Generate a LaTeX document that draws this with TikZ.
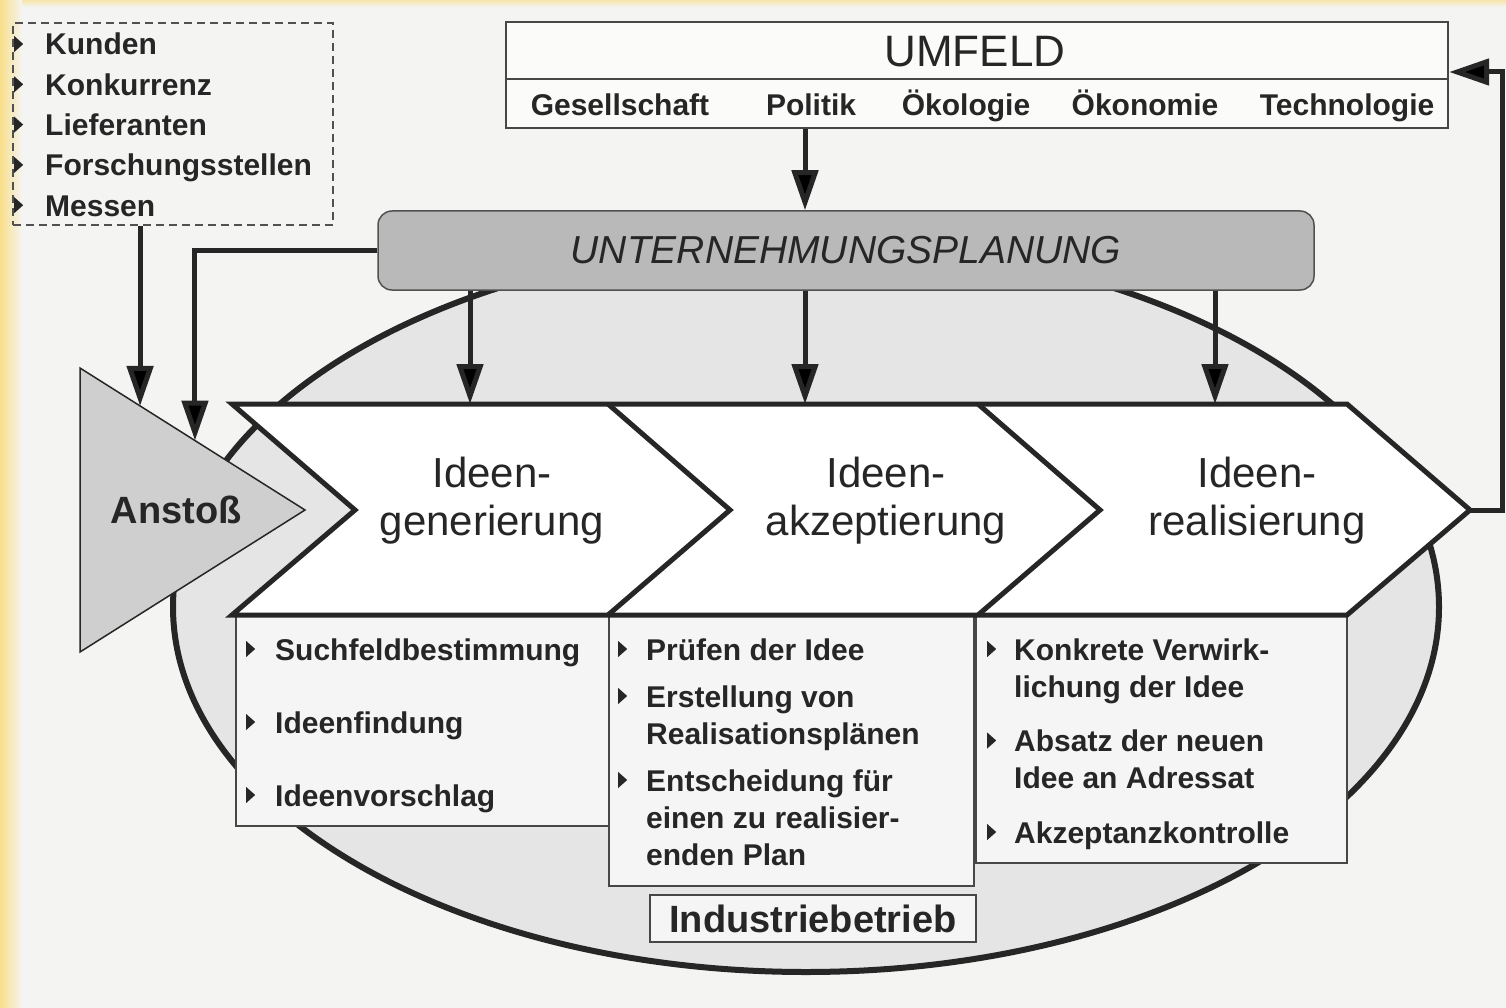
\documentclass[tikz,border=0pt]{standalone}
\usepackage{fontspec}
\setmainfont{Liberation Sans}
\usetikzlibrary{arrows.meta,calc,positioning}

\definecolor{paper}{HTML}{F4F4F3}
\definecolor{edge}{HTML}{F8DF8C}
\definecolor{ink}{HTML}{262626}
\definecolor{planfill}{HTML}{B9B9B9}
\definecolor{trifill}{HTML}{CFCFCF}
\definecolor{ovalfill}{HTML}{E5E5E5}
\definecolor{boxfill}{HTML}{F5F5F5}

% small list bullet
\newcommand\bul{\tikz[baseline=0pt]\fill[ink] (0pt,3pt) -- (0pt,19pt) -- (9pt,11pt) -- cycle;}

\begin{document}
\begin{tikzpicture}[x=1pt,y=-1pt]
\tikzstyle{flow}=[line width=5pt, draw=ink, -{Triangle[length=40pt,width=26pt]}]
\tikzstyle{frame}=[line width=2pt, draw=ink!85]
\tikzstyle{listbox}=[frame, fill=boxfill, anchor=north west, inner sep=0pt]
\tikzstyle{items}=[anchor=base west, inner sep=0pt, text=ink, font=\bfseries\fontsize{30}{37}\selectfont]
\tikzstyle{stage}=[align=center, inner sep=0pt, text=ink, font=\fontsize{42}{48}\selectfont]
\tikzstyle{band}=[line width=5pt, draw=ink, line join=miter]
\useasboundingbox (0,0) rectangle (1506,1008);

% paper
\fill[paper] (0,0) rectangle (1506,1008);
\shade[left color=edge, right color=paper] (0,0) rectangle (22,1008);
\shade[top color=edge!70!paper, bottom color=paper] (22,0) rectangle (1506,7);

% the plant
\draw[line width=6pt, draw=ink, fill=ovalfill] (806,607) ellipse [x radius=633, y radius=365];

% task boxes under the band
\node[listbox, minimum width=373pt, minimum height=210pt] (gen-box) at (235,615) {};
\node[listbox, minimum width=365pt, minimum height=270pt] (akz-box) at (608,615) {};
\node[listbox, minimum width=371pt, minimum height=247pt] (real-box) at (975,615) {};

% phase band
\draw[band, fill=white] (232,404) -- (1347,404) -- (1470,510) coordinate (chev-tip)
  -- (1347,615) -- (232,615) -- (355,510) -- cycle;
\draw[band] (608,404) -- (730,510) -- (608,615);
\draw[band] (978,404) -- (1100,510) -- (978,615);

\node[stage] (gen) at (492,501) {Ideen-\\generierung};
\node[stage] (akz) at (886,501) {Ideen-\\akzeptierung};
\node[stage] (real) at (1257,501) {Ideen-\\realisierung};

\node[items] (gen-list) at (246,660) {\begin{tabular}[t]{@{}l@{\hspace{20pt}}l@{}}
  \bul & Suchfeldbestimmung\\[36pt]
  \bul & Ideenfindung\\[36pt]
  \bul & Ideenvorschlag
\end{tabular}};
\node[items] (akz-list) at (618,660) {\begin{tabular}[t]{@{}l@{\hspace{19pt}}l@{}}
  \bul & Prüfen der Idee\\[10pt]
  \bul & Erstellung von\\
       & Realisationsplänen\\[10pt]
  \bul & Entscheidung für\\
       & einen zu realisier-\\
       & enden Plan
\end{tabular}};
\node[items] (real-list) at (987,660) {\begin{tabular}[t]{@{}l@{\hspace{18pt}}l@{}}
  \bul & Konkrete Verwirk-\\
       & lichung der Idee\\[17.5pt]
  \bul & Absatz der neuen\\
       & Idee an Adressat\\[17.5pt]
  \bul & Akzeptanzkontrolle
\end{tabular}};

\node[frame, fill=boxfill, minimum width=326pt, minimum height=47pt, text=ink,
  font=\bfseries\fontsize{38}{44}\selectfont] (werk) at (813,918.5) {Industriebetrieb};

% trigger
\coordinate (tri-top) at (80,368);
\coordinate (tri-bot) at (80,652);
\coordinate (tri-tip) at (305,510);
\draw[line width=1.5pt, draw=ink, fill=trifill] (tri-top) -- (tri-tip) -- (tri-bot) -- cycle;
\node[text=ink, font=\bfseries\fontsize{38}{44}\selectfont] (anstoss) at (176,510) {Anstoß};

% planning
\node[draw=ink!80, line width=1.5pt, fill=planfill, rounded corners=14pt,
  minimum width=936pt, minimum height=79pt, text=ink,
  font=\itshape\fontsize{39}{44}\selectfont] (plan) at (846,250.5) {UNTERNEHMUNGSPLANUNG};

% environment
\node[frame, line width=2.4pt, fill=white!60!paper, minimum width=942pt, minimum height=106pt] (umfeld) at (977,75) {};
\coordinate (umfeld-split) at (977,79);
\draw[frame] (umfeld.west |- umfeld-split) -- (umfeld.east |- umfeld-split);
\node[text=ink, font=\fontsize{44}{50}\selectfont] (umfeld-title) at (975,52) {UMFELD};
\foreach \w/\x [count=\i] in {Gesellschaft/620, Politik/811, Ökologie/966, Ökonomie/1145, Technologie/1347}
  \node[text=ink, font=\bfseries\fontsize{30}{36}\selectfont, anchor=base] (field\i) at (\x,116) {\w};

% outside sources
\node[draw=ink!80, dash pattern=on 8pt off 5pt, line width=1.8pt, minimum width=320pt,
  minimum height=202pt, anchor=north west] (sources) at (12,22) {};
\node[items, font=\bfseries\fontsize{30}{40.3}\selectfont] (src-list) at (14,55) {\begin{tabular}[t]{@{}l@{\hspace{22pt}}l@{}}
  \bul & Kunden\\
  \bul & Konkurrenz\\
  \bul & Lieferanten\\
  \bul & Forschungsstellen\\
  \bul & Messen
\end{tabular}};

% connectors
\coordinate (gen-in) at (470,404);
\coordinate (akz-in) at (805,404);
\coordinate (real-in) at (1215,404);
\coordinate (anstoss-in1) at ($(tri-top)!0.267!(tri-tip)$);
\coordinate (anstoss-in2) at ($(tri-top)!0.511!(tri-tip)$);

\draw[flow] (umfeld.south -| akz-in) -- (plan.north -| akz-in);
\foreach \c in {gen-in, akz-in, real-in}
  \draw[flow] (plan.south -| \c) -- (\c);
\draw[flow] (sources.south -| anstoss-in1) -- (anstoss-in1);
\draw[flow] (plan.west) -| (anstoss-in2);
\draw[flow] (chev-tip) -- ++(32,0) |- ([yshift=3pt]umfeld.east);
\end{tikzpicture}
\end{document}
